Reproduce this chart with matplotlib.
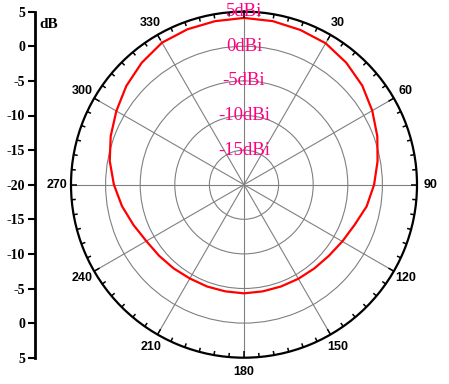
import numpy as np
import matplotlib
matplotlib.use("Agg")
import matplotlib.pyplot as plt

# Data
angles_deg = [0, 10, 20, 30, 40, 50, 60, 70, 80, 90, 100, 110, 120, 130, 140, 150, 160, 170,
              180, 190, 200, 210, 220, 230, 240, 250, 260, 270, 280, 290, 300, 310, 320, 330, 340, 350, 360]
gain_dbi = [4.1, 4.0, 3.8, 3.6, 3.0, 2.3, 1.4, 0.5, -0.4, -1.2, -2.0, -3.0, -3.6, -4.0, -4.2, -4.3, -4.35, -4.35,
            -4.3, -4.35, -4.35, -4.35, -4.2, -4.0, -3.7, -3.0, -2.1, -1.2, -0.3, 0.5, 1.3, 2.2, 3.0, 3.7, 3.9, 4.0, 4.1]
ring_values = [-15, -10, -5, 0, 5]
ring_labels = ["-15dBi", "-10dBi", "-5dBi", "0dBi", "5dBi"]
theta_labels = [30, 60, 90, 120, 150, 180, 210, 240, 270, 300, 330]
left_tick_labels = ["5", "0", "-5", "-10", "-15", "-20", "-15", "-10", "-5", "0", "5"]

W, H = 449, 384
fig = plt.figure(figsize=(W / 100, H / 100), dpi=100)
fig.patch.set_facecolor("white")

cx, cy, R = 244, 184.7, 173
left = (cx - R) / W
bottom = (H - cy - R) / H
ax = fig.add_axes([left, bottom, 2 * R / W, 2 * R / H], projection="polar")
ax.set_theta_zero_location("N")
ax.set_theta_direction(-1)
ax.set_rlim(-20, 5)
ax.set_facecolor("none")

ax.set_yticks(ring_values[:-1])
ax.set_yticklabels([])
ax.set_xticks(np.deg2rad(np.arange(0, 360, 30)))
ax.set_xticklabels([])
ax.grid(True, which="major", color="#808080", linewidth=0.8)
ax.tick_params(axis="both", length=0)
ax.spines["polar"].set_linewidth(1.6)
ax.spines["polar"].set_color("black")

# tick marks on the outer circle (inward)
rmax = 5
for d in range(0, 360, 5):
    th = np.deg2rad(d)
    ln = 0.9 if d % 30 == 0 else 0.6
    ax.plot([th, th], [rmax, rmax - ln], color="black", linewidth=1.1, clip_on=False, zorder=4,
            solid_capstyle="butt")

ax.plot(np.deg2rad(angles_deg), gain_dbi, color="#FF0000", linewidth=1.6, zorder=3)

for v, lab in zip(ring_values, ring_labels):
    ax.text(0, v, lab, ha="center", va="center", color="#FF0080",
            family="Liberation Serif", fontsize=13.5, zorder=5, clip_on=False)

for t in theta_labels:
    ax.text(np.deg2rad(t), 7.0, str(t), ha="center", va="center", color="black",
            family="Liberation Sans", fontweight="bold", fontsize=9, clip_on=False)

# Left dB axis
ax2 = fig.add_axes([35 / W, bottom, 0.001, 2 * R / H])
ax2.set_ylim(50, 0)
ax2.set_xlim(0, 1)
ax2.set_yticks(np.arange(0, 51, 5))
ax2.set_yticklabels(left_tick_labels, family="Liberation Serif", fontweight="bold", fontsize=10)
ax2.set_xticks([])
for s in ["top", "right", "bottom"]:
    ax2.spines[s].set_visible(False)
ax2.spines["left"].set_linewidth(2)
ax2.tick_params(axis="y", direction="out", length=5, width=1.5, pad=2)
ax2.patch.set_visible(False)

fig.text(49 / W, 1 - 24.5 / H, "dB", ha="center", va="center", family="Liberation Serif",
         fontweight="bold", fontsize=11)

fig.savefig("out.png", dpi=100)
